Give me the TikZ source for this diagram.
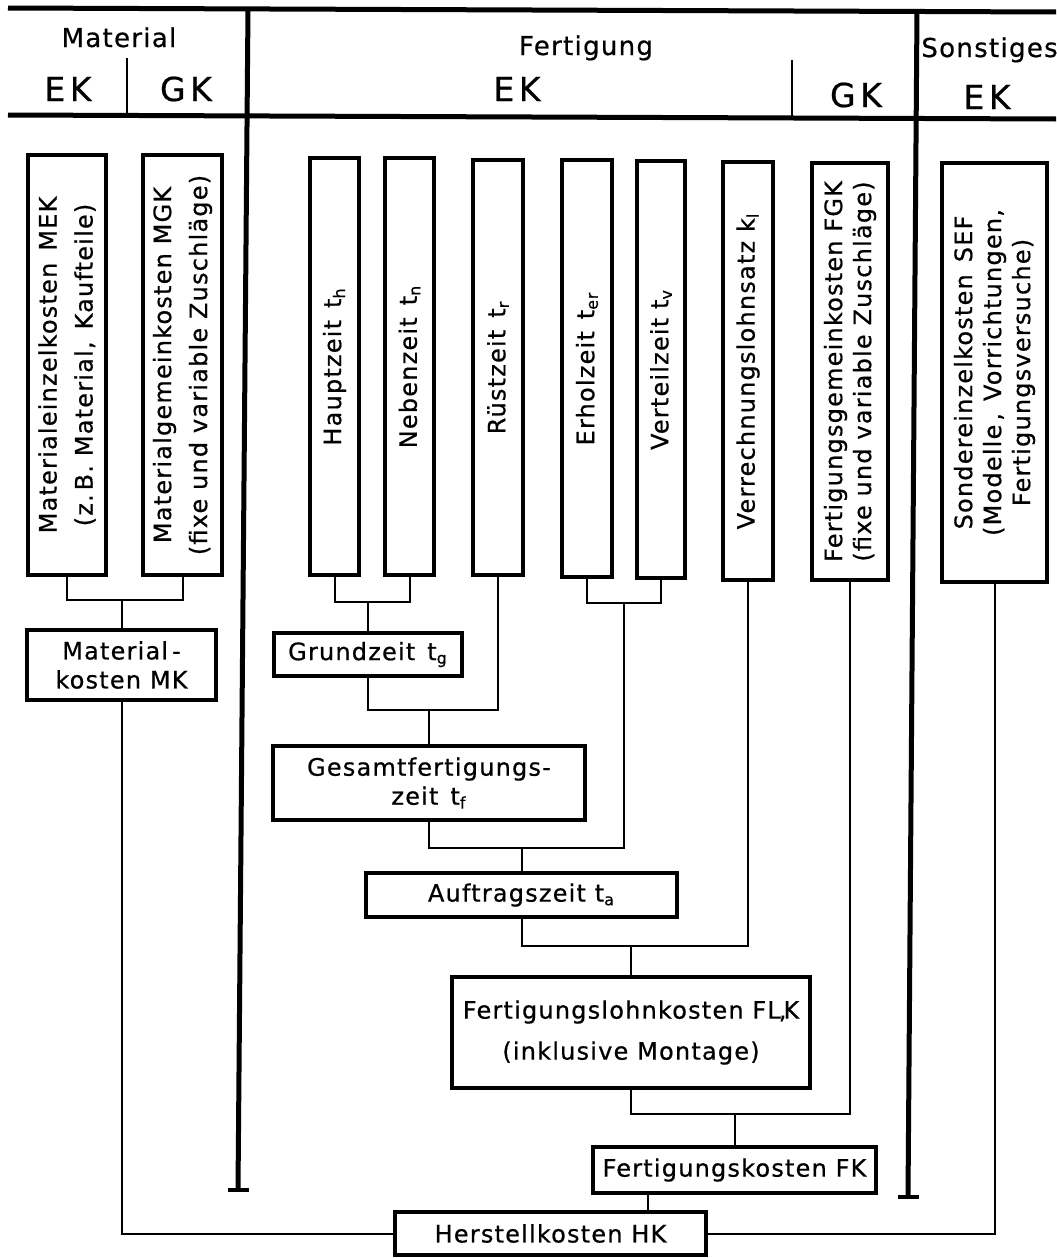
\documentclass[tikz,border=0pt]{standalone}
\usepackage{fontspec}
\setmainfont[LetterSpace=5,FakeBold=0.6]{DejaVu Sans}
\newfontfamily\hdfont[LetterSpace=14,FakeBold=0.6]{DejaVu Sans}
\begin{document}
\begin{tikzpicture}[x=0.5pt,y=-0.5pt,
  majorline/.style={line width=2.5pt},
  footline/.style={line width=1.6pt},
  subline/.style={line width=1pt},
  conn/.style={line width=1pt},
  box/.style={draw, line width=1.8pt, inner sep=0pt, align=center, font=\fontsize{12}{14.5}\selectfont},
  vbox/.style={box, rotate=90},
  head/.style={font=\fontsize{13}{15}\selectfont, anchor=base, inner sep=0pt},
  headbig/.style={font=\hdfont\fontsize{16.5}{18}\selectfont, anchor=base, inner sep=0pt}]
\fill[white] (0,0) rectangle (1056,1258);
\useasboundingbox (0,0) rectangle (1056,1258);

% table lines
\draw[majorline] (8,8) -- (1056,12);
\draw[majorline] (8,115) -- (1056,119);
\draw[majorline] (248,8) -- (238,1190);
\draw[footline] (228,1190) -- (249,1190);
\draw[majorline] (917,10) -- (908,1197);
\draw[footline] (898,1197) -- (919,1197);
\draw[subline] (127,58) -- (127,115);
\draw[subline] (792,60) -- (792,118);

% header texts
\node[head] (hmat) at (119,47) {Material};
\node[headbig] (hmek) at (68,101) {EK};
\node[headbig] (hmgk) at (186,101) {GK};
\node[head] (hfert) at (586,55) {Fertigung};
\node[headbig] (hfek) at (517,101) {EK};
\node[headbig] (hfgk) at (856,107) {GK};
\node[head, anchor=base west] (hson) at (921,57) {Sonstiges};
\node[headbig] (hsek) at (987,109) {EK};

% vertical boxes
\node[vbox, minimum width=210pt, minimum height=39pt] (mek) at (67,365)
  {Materialeinzelkosten\enspace MEK\\[3.5pt](z.\,B. Material,\enspace Kaufteile)};
\node[vbox, minimum width=210pt, minimum height=39.5pt] (mgk) at (182.5,365)
  {Materialgemeinkosten MGK\\[3.5pt](fixe und variable Zuschläge)};
\node[vbox, minimum width=208.5pt, minimum height=24.5pt] (hz) at (334.5,366.5)
  {Hauptzeit\enspace t\textsubscript{h}};
\node[vbox, minimum width=208.5pt, minimum height=24.5pt] (nz) at (409.5,366.5)
  {Nebenzeit\enspace t\textsubscript{n}};
\node[vbox, minimum width=207.5pt, minimum height=25pt] (rz) at (498,367.5)
  {Rüstzeit\enspace t\textsubscript{r}};
\node[vbox, minimum width=208.5pt, minimum height=25pt] (ez) at (587,368.5)
  {Erholzeit\enspace t\textsubscript{er}};
\node[vbox, minimum width=208.5pt, minimum height=24pt] (vz) at (661,369.5)
  {Verteilzeit t\textsubscript{v}};
\node[vbox, minimum width=209pt, minimum height=25pt] (vl) at (748,371)
  {Verrechnungslohnsatz k\textsubscript{l}};
\node[vbox, minimum width=208.5pt, minimum height=38pt] (fgk) at (850,371.5)
  {Fertigungsgemeinkosten FGK\\(fixe und variable Zuschläge)};
\node[vbox, minimum width=209.5pt, minimum height=52.5pt] (sef) at (994.5,372.5)
  {Sondereinzelkosten\enspace SEF\\(Modelle\,,\enspace Vorrichtungen,\\Fertigungsversuche)};

% horizontal boxes
\node[box, minimum width=94.5pt, minimum height=35pt] (mk) at (121.5,665)
  {Material\,-\\kosten MK};
\node[box, minimum width=94pt, minimum height=21.5pt] (gz) at (368,654.5)
  {Grundzeit\enspace t\textsubscript{g}};
\node[box, minimum width=156pt, minimum height=37pt] (gf) at (429,783)
  {Gesamtfertigungs-\\zeit\enspace t\textsubscript{f}};
\node[box, minimum width=155.5pt, minimum height=22pt] (az) at (521.5,895)
  {Auftragszeit t\textsubscript{a}};
\node[box, minimum width=179pt, minimum height=55.5pt] (flk) at (631,1032.5)
  {Fertigungslohnkosten FL\kern-1pt,\kern-1.5pt K\\[6pt](inklusive Montage)};
\node[box, minimum width=141.5pt, minimum height=23pt] (fk) at (734.5,1170)
  {Fertigungskosten FK};
\node[box, minimum width=155.5pt, minimum height=21.5pt] (hk) at (550.5,1233.5)
  {Herstellkosten HK};

% connectors
\coordinate (jm) at (122,600);
\draw[conn] (mek.west) |- (jm) -| (mgk.west);
\draw[conn] (jm) -- (jm |- mk.north);
\draw[conn] (mk.south) |- (hk.west);

\coordinate (j1) at (368,602);
\draw[conn] (hz.west) |- (j1) -| (nz.west);
\draw[conn] (j1) -- (gz.north);
\coordinate (j2) at (429,710);
\draw[conn] (gz.south) |- (j2) -| (rz.west);
\draw[conn] (j2) -- (gf.north);
\coordinate (j3) at (624,603);
\draw[conn] (ez.west) |- (j3) -| (vz.west);
\coordinate (j4) at (521.5,848);
\draw[conn] (gf.south) |- (j4) -| (j3);
\draw[conn] (j4) -- (az.north);
\coordinate (j5) at (631,946);
\draw[conn] (az.south) |- (j5) -| (vl.west);
\draw[conn] (j5) -- (flk.north);
\coordinate (j6) at (734.5,1114);
\draw[conn] (flk.south) |- (j6) -| (fgk.west);
\draw[conn] (j6) -- (fk.north);
\coordinate (fkout) at ([xshift=28.5pt]fk.south west);
\draw[conn] (fkout) -- (fkout |- hk.north);
\draw[conn] (sef.west) |- (hk.east);
\end{tikzpicture}
\end{document}
